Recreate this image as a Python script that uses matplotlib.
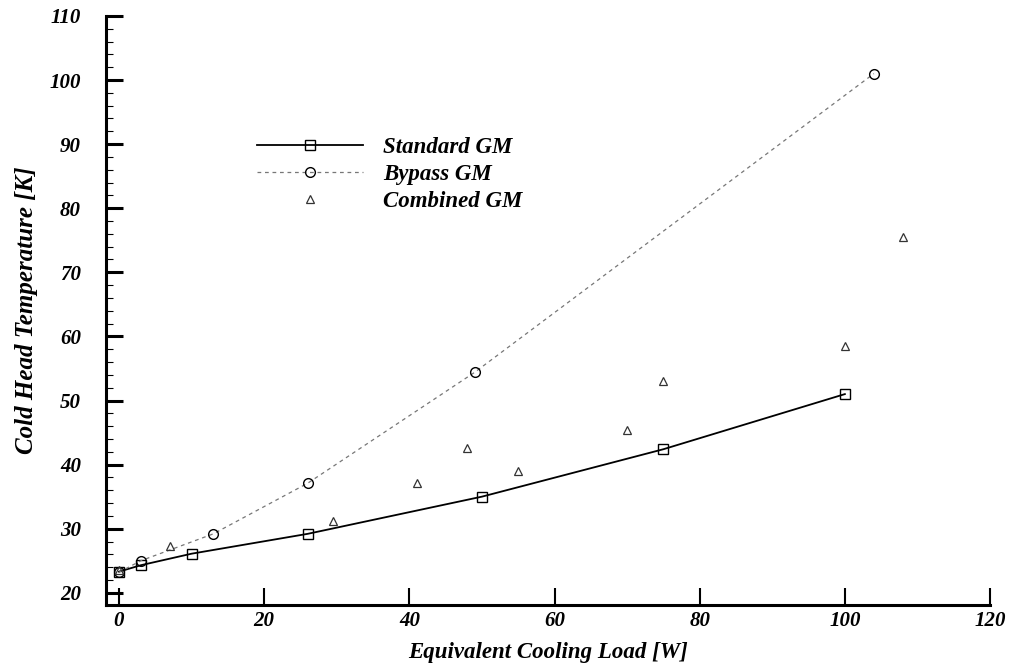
import matplotlib
matplotlib.use("Agg")
import matplotlib.pyplot as plt
from matplotlib.ticker import MultipleLocator

# Cold head temperature vs. equivalent cooling load for three GM configurations
standard_load = [0, 3, 10, 26, 50, 75, 100]
standard_temp = [23.3, 24.3, 26.1, 29.2, 35.0, 42.4, 51.0]

bypass_load = [0, 3, 13, 26, 49, 104]
bypass_temp = [23.2, 25.0, 29.2, 37.1, 54.4, 101.0]

combined_load = [0, 7, 29.5, 41, 48, 55, 70, 75, 100, 108]
combined_temp = [23.5, 27.3, 31.2, 37.1, 42.6, 39.0, 45.4, 53.0, 58.5, 75.5]

x_ticks = [0, 20, 40, 60, 80, 100, 120]
y_ticks = [20, 30, 40, 50, 60, 70, 80, 90, 100, 110]

font = dict(family=["Liberation Serif", "DejaVu Serif"], weight="bold", style="italic")

fig = plt.figure(figsize=(10.12, 6.64), dpi=100)
ax = fig.add_axes([0.1047, 0.0889, 0.8736, 0.8871])

ax.plot(standard_load, standard_temp, color="black", lw=1.3, ls="-",
        marker="s", ms=7, mfc="none", mec="black", mew=1.0, label="Standard GM")
ax.plot(bypass_load, bypass_temp, color="#777777", lw=0.9, ls=(0, (3, 3)),
        marker="o", ms=7, mfc="none", mec="black", mew=1.0, label="Bypass GM")
ax.plot(combined_load, combined_temp, ls="none",
        marker="^", ms=6, mfc="none", mec="#333333", mew=0.9, label="Combined GM")

ax.set_xlim(-1.8, 120)
ax.set_ylim(18.1, 110)

for side in ("top", "right"):
    ax.spines[side].set_visible(False)
for side in ("left", "bottom"):
    ax.spines[side].set_linewidth(2.2)

ax.set_xticks(x_ticks)
ax.set_yticks(y_ticks)
ax.yaxis.set_minor_locator(MultipleLocator(2))
ax.tick_params(axis="x", which="major", direction="in", length=12, width=1.5, pad=4)
ax.tick_params(axis="y", which="major", direction="in", length=12, width=2.2, pad=18)
ax.tick_params(axis="y", which="minor", direction="in", length=5, width=0.8)

for lbl in ax.get_xticklabels() + ax.get_yticklabels():
    lbl.set_fontfamily(font["family"])
    lbl.set_fontweight("bold")
    lbl.set_fontstyle("italic")
    lbl.set_fontsize(15)

ax.set_xlabel("Equivalent Cooling Load [W]", fontsize=16.5, labelpad=8, **font)
ax.set_ylabel("Cold Head Temperature [K]", fontsize=18, labelpad=8, **font)

leg = ax.legend(loc="upper left", bbox_to_anchor=(0.243, 0.811),
                bbox_transform=fig.transFigure, frameon=False,
                handlelength=4.6, handletextpad=0.9, labelspacing=0.27,
                borderpad=0, numpoints=1,
                prop=dict(family=font["family"], weight="bold", style="italic", size=16.5))

fig.savefig("out.png", dpi=100, facecolor="white")
